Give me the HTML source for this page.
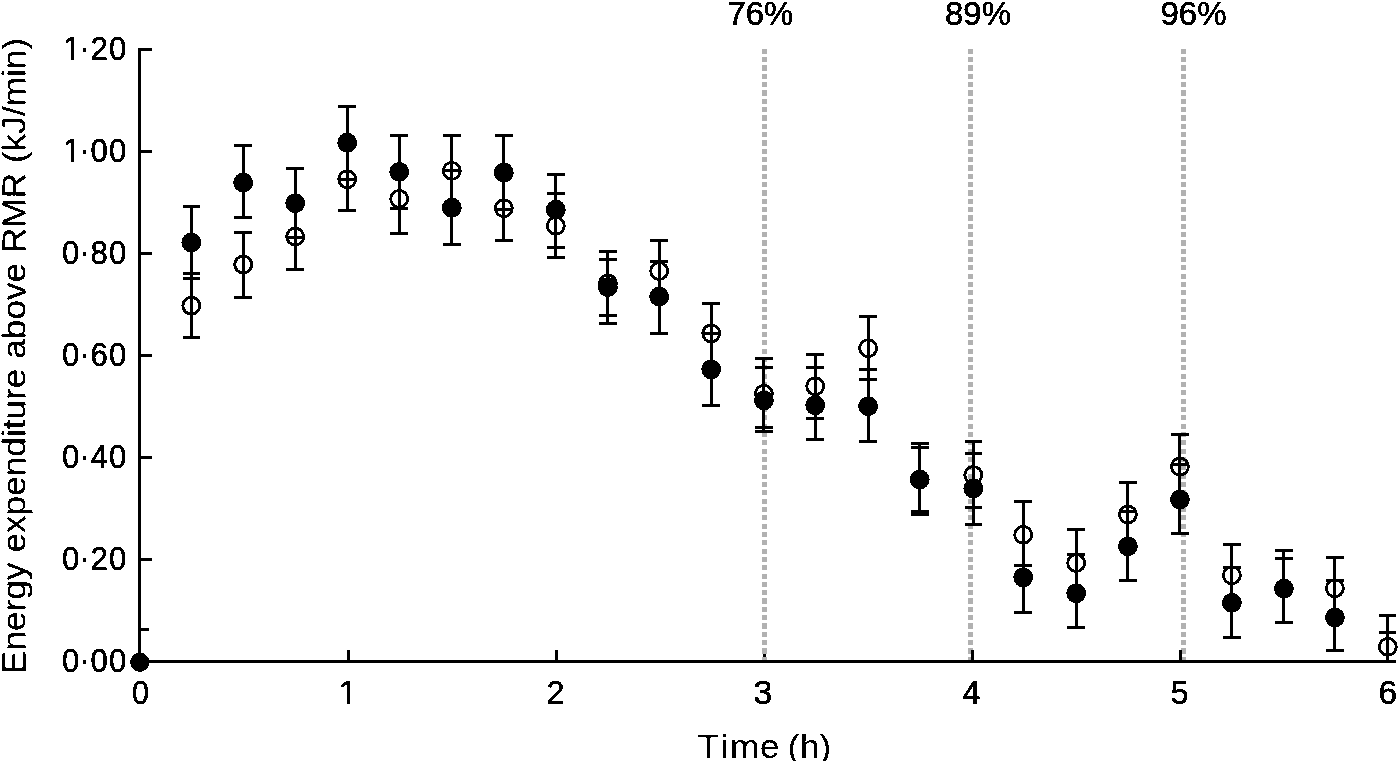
<!DOCTYPE html>
<html lang="en"><head><meta charset="utf-8"><title>Energy expenditure above RMR</title>
<style>html,body{margin:0;padding:0;background:#fff}body{width:1398px;height:761px;overflow:hidden}svg{display:block}text{font-family:"Liberation Sans",Arial,Helvetica,sans-serif;fill:#000;stroke:#000;stroke-width:0.5px}</style></head><body>
<svg width="1398" height="761" viewBox="0 0 1398 761">
<defs><filter id="bw" x="-5%" y="-5%" width="110%" height="110%" color-interpolation-filters="sRGB"><feComponentTransfer><feFuncA type="discrete" tableValues="0 1"/></feComponentTransfer></filter><clipPath id="one"><rect x="-2" y="-28" width="24" height="24.6"/><rect x="8.15" y="-28" width="3.5" height="30"/></clipPath><clipPath id="oney"><rect x="0" y="-30" width="200" height="26.6"/><rect x="76.00" y="-30" width="3.5" height="32"/><rect x="85.45" y="-30" width="120" height="40"/></clipPath></defs>
<rect width="1398" height="761" fill="#fff"/>
<g shape-rendering="crispEdges" fill="#000" stroke="none">
<rect x="138" y="48" width="3" height="615"/>
<rect x="138" y="660" width="1258" height="3"/>
<rect x="141" y="48" width="11" height="3"/>
<rect x="141" y="150" width="11" height="3"/>
<rect x="141" y="252" width="11" height="3"/>
<rect x="141" y="354" width="11" height="3"/>
<rect x="141" y="456" width="11" height="3"/>
<rect x="141" y="558" width="11" height="3"/>
<rect x="141" y="628" width="8" height="3"/>
<rect x="347" y="650" width="3" height="10"/>
<rect x="555" y="650" width="3" height="10"/>
<rect x="763" y="650" width="3" height="10"/>
<g fill="#b1b1b1">
<rect x="762" y="49" width="5" height="5"/>
<rect x="762" y="57" width="5" height="5"/>
<rect x="762" y="65" width="5" height="6"/>
<rect x="762" y="74" width="5" height="5"/>
<rect x="762" y="82" width="5" height="5"/>
<rect x="762" y="90" width="5" height="6"/>
<rect x="762" y="99" width="5" height="5"/>
<rect x="762" y="107" width="5" height="5"/>
<rect x="762" y="115" width="5" height="6"/>
<rect x="762" y="124" width="5" height="5"/>
<rect x="762" y="132" width="5" height="5"/>
<rect x="762" y="140" width="5" height="6"/>
<rect x="762" y="149" width="5" height="5"/>
<rect x="762" y="157" width="5" height="5"/>
<rect x="762" y="165" width="5" height="6"/>
<rect x="762" y="174" width="5" height="5"/>
<rect x="762" y="182" width="5" height="5"/>
<rect x="762" y="190" width="5" height="6"/>
<rect x="762" y="199" width="5" height="5"/>
<rect x="762" y="207" width="5" height="5"/>
<rect x="762" y="215" width="5" height="6"/>
<rect x="762" y="224" width="5" height="5"/>
<rect x="762" y="232" width="5" height="5"/>
<rect x="762" y="240" width="5" height="6"/>
<rect x="762" y="249" width="5" height="5"/>
<rect x="762" y="257" width="5" height="5"/>
<rect x="762" y="265" width="5" height="5"/>
<rect x="762" y="274" width="5" height="5"/>
<rect x="762" y="282" width="5" height="5"/>
<rect x="762" y="290" width="5" height="5"/>
<rect x="762" y="299" width="5" height="5"/>
<rect x="762" y="307" width="5" height="5"/>
<rect x="762" y="315" width="5" height="5"/>
<rect x="762" y="324" width="5" height="5"/>
<rect x="762" y="332" width="5" height="5"/>
<rect x="762" y="340" width="5" height="5"/>
<rect x="762" y="349" width="5" height="5"/>
<rect x="762" y="357" width="5" height="5"/>
<rect x="762" y="365" width="5" height="5"/>
<rect x="762" y="374" width="5" height="5"/>
<rect x="762" y="382" width="5" height="5"/>
<rect x="762" y="390" width="5" height="5"/>
<rect x="762" y="399" width="5" height="5"/>
<rect x="762" y="407" width="5" height="5"/>
<rect x="762" y="415" width="5" height="5"/>
<rect x="762" y="424" width="5" height="5"/>
<rect x="762" y="432" width="5" height="5"/>
<rect x="762" y="440" width="5" height="5"/>
<rect x="762" y="449" width="5" height="5"/>
<rect x="762" y="457" width="5" height="5"/>
<rect x="762" y="465" width="5" height="5"/>
<rect x="762" y="474" width="5" height="5"/>
<rect x="762" y="482" width="5" height="5"/>
<rect x="762" y="490" width="5" height="5"/>
<rect x="762" y="499" width="5" height="5"/>
<rect x="762" y="507" width="5" height="5"/>
<rect x="762" y="515" width="5" height="5"/>
<rect x="762" y="524" width="5" height="5"/>
<rect x="762" y="532" width="5" height="5"/>
<rect x="762" y="540" width="5" height="5"/>
<rect x="762" y="549" width="5" height="5"/>
<rect x="762" y="557" width="5" height="5"/>
<rect x="762" y="565" width="5" height="5"/>
<rect x="762" y="574" width="5" height="5"/>
<rect x="762" y="582" width="5" height="5"/>
<rect x="762" y="590" width="5" height="5"/>
<rect x="762" y="598" width="5" height="6"/>
<rect x="762" y="607" width="5" height="5"/>
<rect x="762" y="615" width="5" height="5"/>
<rect x="762" y="623" width="5" height="6"/>
<rect x="762" y="632" width="5" height="5"/>
<rect x="762" y="640" width="5" height="5"/>
<rect x="762" y="648" width="5" height="6"/>
<rect x="762" y="657" width="5" height="3"/>
</g>
<g fill="#b1b1b1">
<rect x="968" y="49" width="5" height="5"/>
<rect x="968" y="57" width="5" height="5"/>
<rect x="968" y="65" width="5" height="6"/>
<rect x="968" y="74" width="5" height="5"/>
<rect x="968" y="82" width="5" height="5"/>
<rect x="968" y="90" width="5" height="6"/>
<rect x="968" y="99" width="5" height="5"/>
<rect x="968" y="107" width="5" height="5"/>
<rect x="968" y="115" width="5" height="6"/>
<rect x="968" y="124" width="5" height="5"/>
<rect x="968" y="132" width="5" height="5"/>
<rect x="968" y="140" width="5" height="6"/>
<rect x="968" y="149" width="5" height="5"/>
<rect x="968" y="157" width="5" height="5"/>
<rect x="968" y="165" width="5" height="6"/>
<rect x="968" y="174" width="5" height="5"/>
<rect x="968" y="182" width="5" height="5"/>
<rect x="968" y="190" width="5" height="6"/>
<rect x="968" y="199" width="5" height="5"/>
<rect x="968" y="207" width="5" height="5"/>
<rect x="968" y="215" width="5" height="6"/>
<rect x="968" y="224" width="5" height="5"/>
<rect x="968" y="232" width="5" height="5"/>
<rect x="968" y="240" width="5" height="6"/>
<rect x="968" y="249" width="5" height="5"/>
<rect x="968" y="257" width="5" height="5"/>
<rect x="968" y="265" width="5" height="5"/>
<rect x="968" y="274" width="5" height="5"/>
<rect x="968" y="282" width="5" height="5"/>
<rect x="968" y="290" width="5" height="5"/>
<rect x="968" y="299" width="5" height="5"/>
<rect x="968" y="307" width="5" height="5"/>
<rect x="968" y="315" width="5" height="5"/>
<rect x="968" y="324" width="5" height="5"/>
<rect x="968" y="332" width="5" height="5"/>
<rect x="968" y="340" width="5" height="5"/>
<rect x="968" y="349" width="5" height="5"/>
<rect x="968" y="357" width="5" height="5"/>
<rect x="968" y="365" width="5" height="5"/>
<rect x="968" y="374" width="5" height="5"/>
<rect x="968" y="382" width="5" height="5"/>
<rect x="968" y="390" width="5" height="5"/>
<rect x="968" y="399" width="5" height="5"/>
<rect x="968" y="407" width="5" height="5"/>
<rect x="968" y="415" width="5" height="5"/>
<rect x="968" y="424" width="5" height="5"/>
<rect x="968" y="432" width="5" height="5"/>
<rect x="968" y="440" width="5" height="5"/>
<rect x="968" y="449" width="5" height="5"/>
<rect x="968" y="457" width="5" height="5"/>
<rect x="968" y="465" width="5" height="5"/>
<rect x="968" y="474" width="5" height="5"/>
<rect x="968" y="482" width="5" height="5"/>
<rect x="968" y="490" width="5" height="5"/>
<rect x="968" y="499" width="5" height="5"/>
<rect x="968" y="507" width="5" height="5"/>
<rect x="968" y="515" width="5" height="5"/>
<rect x="968" y="524" width="5" height="5"/>
<rect x="968" y="532" width="5" height="5"/>
<rect x="968" y="540" width="5" height="5"/>
<rect x="968" y="549" width="5" height="5"/>
<rect x="968" y="557" width="5" height="5"/>
<rect x="968" y="565" width="5" height="5"/>
<rect x="968" y="574" width="5" height="5"/>
<rect x="968" y="582" width="5" height="5"/>
<rect x="968" y="590" width="5" height="5"/>
<rect x="968" y="598" width="5" height="6"/>
<rect x="968" y="607" width="5" height="5"/>
<rect x="968" y="615" width="5" height="5"/>
<rect x="968" y="623" width="5" height="6"/>
<rect x="968" y="632" width="5" height="5"/>
<rect x="968" y="640" width="5" height="5"/>
<rect x="968" y="648" width="5" height="6"/>
<rect x="968" y="657" width="5" height="3"/>
</g>
<g fill="#b1b1b1">
<rect x="1181" y="49" width="5" height="5"/>
<rect x="1181" y="57" width="5" height="5"/>
<rect x="1181" y="65" width="5" height="6"/>
<rect x="1181" y="74" width="5" height="5"/>
<rect x="1181" y="82" width="5" height="5"/>
<rect x="1181" y="90" width="5" height="6"/>
<rect x="1181" y="99" width="5" height="5"/>
<rect x="1181" y="107" width="5" height="5"/>
<rect x="1181" y="115" width="5" height="6"/>
<rect x="1181" y="124" width="5" height="5"/>
<rect x="1181" y="132" width="5" height="5"/>
<rect x="1181" y="140" width="5" height="6"/>
<rect x="1181" y="149" width="5" height="5"/>
<rect x="1181" y="157" width="5" height="5"/>
<rect x="1181" y="165" width="5" height="6"/>
<rect x="1181" y="174" width="5" height="5"/>
<rect x="1181" y="182" width="5" height="5"/>
<rect x="1181" y="190" width="5" height="6"/>
<rect x="1181" y="199" width="5" height="5"/>
<rect x="1181" y="207" width="5" height="5"/>
<rect x="1181" y="215" width="5" height="6"/>
<rect x="1181" y="224" width="5" height="5"/>
<rect x="1181" y="232" width="5" height="5"/>
<rect x="1181" y="240" width="5" height="6"/>
<rect x="1181" y="249" width="5" height="5"/>
<rect x="1181" y="257" width="5" height="5"/>
<rect x="1181" y="265" width="5" height="5"/>
<rect x="1181" y="274" width="5" height="5"/>
<rect x="1181" y="282" width="5" height="5"/>
<rect x="1181" y="290" width="5" height="5"/>
<rect x="1181" y="299" width="5" height="5"/>
<rect x="1181" y="307" width="5" height="5"/>
<rect x="1181" y="315" width="5" height="5"/>
<rect x="1181" y="324" width="5" height="5"/>
<rect x="1181" y="332" width="5" height="5"/>
<rect x="1181" y="340" width="5" height="5"/>
<rect x="1181" y="349" width="5" height="5"/>
<rect x="1181" y="357" width="5" height="5"/>
<rect x="1181" y="365" width="5" height="5"/>
<rect x="1181" y="374" width="5" height="5"/>
<rect x="1181" y="382" width="5" height="5"/>
<rect x="1181" y="390" width="5" height="5"/>
<rect x="1181" y="399" width="5" height="5"/>
<rect x="1181" y="407" width="5" height="5"/>
<rect x="1181" y="415" width="5" height="5"/>
<rect x="1181" y="424" width="5" height="5"/>
<rect x="1181" y="432" width="5" height="5"/>
<rect x="1181" y="440" width="5" height="5"/>
<rect x="1181" y="449" width="5" height="5"/>
<rect x="1181" y="457" width="5" height="5"/>
<rect x="1181" y="465" width="5" height="5"/>
<rect x="1181" y="474" width="5" height="5"/>
<rect x="1181" y="482" width="5" height="5"/>
<rect x="1181" y="490" width="5" height="5"/>
<rect x="1181" y="499" width="5" height="5"/>
<rect x="1181" y="507" width="5" height="5"/>
<rect x="1181" y="515" width="5" height="5"/>
<rect x="1181" y="524" width="5" height="5"/>
<rect x="1181" y="532" width="5" height="5"/>
<rect x="1181" y="540" width="5" height="5"/>
<rect x="1181" y="549" width="5" height="5"/>
<rect x="1181" y="557" width="5" height="5"/>
<rect x="1181" y="565" width="5" height="5"/>
<rect x="1181" y="574" width="5" height="5"/>
<rect x="1181" y="582" width="5" height="5"/>
<rect x="1181" y="590" width="5" height="5"/>
<rect x="1181" y="598" width="5" height="6"/>
<rect x="1181" y="607" width="5" height="5"/>
<rect x="1181" y="615" width="5" height="5"/>
<rect x="1181" y="623" width="5" height="6"/>
<rect x="1181" y="632" width="5" height="5"/>
<rect x="1181" y="640" width="5" height="5"/>
<rect x="1181" y="648" width="5" height="6"/>
<rect x="1181" y="657" width="5" height="3"/>
</g>
<rect x="971" y="650" width="3" height="10"/>
<rect x="1179" y="650" width="3" height="10"/>
<rect x="190" y="205" width="3" height="134"/>
<rect x="183" y="205" width="17" height="3"/>
<rect x="183" y="272" width="17" height="3"/>
<rect x="183" y="277" width="17" height="3"/>
<rect x="183" y="336" width="17" height="3"/>
<rect x="242" y="144" width="3" height="75"/>
<rect x="234" y="144" width="18" height="3"/>
<rect x="234" y="216" width="18" height="3"/>
<rect x="242" y="231" width="3" height="68"/>
<rect x="234" y="231" width="18" height="3"/>
<rect x="234" y="296" width="18" height="3"/>
<rect x="294" y="167" width="3" height="104"/>
<rect x="286" y="167" width="18" height="3"/>
<rect x="286" y="236" width="18" height="3"/>
<rect x="286" y="268" width="18" height="3"/>
<rect x="346" y="105" width="3" height="107"/>
<rect x="338" y="105" width="18" height="3"/>
<rect x="338" y="178" width="18" height="3"/>
<rect x="338" y="209" width="18" height="3"/>
<rect x="398" y="134" width="3" height="101"/>
<rect x="390" y="134" width="18" height="3"/>
<rect x="390" y="207" width="18" height="3"/>
<rect x="390" y="232" width="18" height="3"/>
<rect x="450" y="134" width="3" height="112"/>
<rect x="443" y="134" width="18" height="3"/>
<rect x="443" y="169" width="18" height="3"/>
<rect x="443" y="243" width="18" height="3"/>
<rect x="502" y="134" width="3" height="108"/>
<rect x="495" y="134" width="18" height="3"/>
<rect x="495" y="208" width="18" height="3"/>
<rect x="495" y="239" width="18" height="3"/>
<rect x="554" y="173" width="3" height="86"/>
<rect x="547" y="173" width="18" height="3"/>
<rect x="547" y="192" width="18" height="3"/>
<rect x="547" y="246" width="18" height="3"/>
<rect x="547" y="256" width="18" height="3"/>
<rect x="606" y="250" width="3" height="75"/>
<rect x="599" y="250" width="18" height="3"/>
<rect x="599" y="258" width="18" height="3"/>
<rect x="599" y="314" width="18" height="3"/>
<rect x="599" y="322" width="18" height="3"/>
<rect x="658" y="239" width="3" height="96"/>
<rect x="650" y="239" width="18" height="3"/>
<rect x="650" y="260" width="18" height="3"/>
<rect x="650" y="332" width="18" height="3"/>
<rect x="710" y="302" width="3" height="105"/>
<rect x="702" y="302" width="18" height="3"/>
<rect x="702" y="332" width="18" height="3"/>
<rect x="702" y="404" width="18" height="3"/>
<rect x="762" y="357" width="3" height="76"/>
<rect x="755" y="357" width="18" height="3"/>
<rect x="755" y="366" width="18" height="3"/>
<rect x="755" y="426" width="18" height="3"/>
<rect x="755" y="430" width="18" height="3"/>
<rect x="814" y="353" width="3" height="88"/>
<rect x="806" y="353" width="18" height="3"/>
<rect x="806" y="366" width="18" height="3"/>
<rect x="806" y="417" width="18" height="3"/>
<rect x="806" y="438" width="18" height="3"/>
<rect x="867" y="315" width="3" height="128"/>
<rect x="859" y="315" width="18" height="3"/>
<rect x="859" y="368" width="18" height="3"/>
<rect x="859" y="378" width="18" height="3"/>
<rect x="859" y="440" width="18" height="3"/>
<rect x="918" y="442" width="3" height="74"/>
<rect x="911" y="442" width="18" height="3"/>
<rect x="911" y="446" width="18" height="3"/>
<rect x="911" y="510" width="18" height="3"/>
<rect x="911" y="513" width="18" height="3"/>
<rect x="972" y="440" width="3" height="86"/>
<rect x="965" y="440" width="17" height="3"/>
<rect x="965" y="452" width="17" height="3"/>
<rect x="965" y="506" width="17" height="3"/>
<rect x="965" y="523" width="17" height="3"/>
<rect x="1022" y="500" width="3" height="114"/>
<rect x="1014" y="500" width="18" height="3"/>
<rect x="1014" y="564" width="18" height="3"/>
<rect x="1014" y="611" width="18" height="3"/>
<rect x="1075" y="528" width="3" height="101"/>
<rect x="1067" y="528" width="18" height="3"/>
<rect x="1067" y="553" width="18" height="3"/>
<rect x="1067" y="626" width="18" height="3"/>
<rect x="1126" y="481" width="3" height="101"/>
<rect x="1119" y="481" width="18" height="3"/>
<rect x="1119" y="510" width="18" height="3"/>
<rect x="1119" y="579" width="18" height="3"/>
<rect x="1178" y="433" width="3" height="102"/>
<rect x="1171" y="433" width="18" height="3"/>
<rect x="1171" y="463" width="18" height="3"/>
<rect x="1171" y="532" width="18" height="3"/>
<rect x="1230" y="543" width="3" height="96"/>
<rect x="1223" y="543" width="18" height="3"/>
<rect x="1223" y="566" width="18" height="3"/>
<rect x="1223" y="636" width="18" height="3"/>
<rect x="1282" y="549" width="3" height="75"/>
<rect x="1275" y="549" width="18" height="3"/>
<rect x="1275" y="557" width="18" height="3"/>
<rect x="1275" y="621" width="18" height="3"/>
<rect x="1333" y="556" width="3" height="96"/>
<rect x="1326" y="556" width="18" height="3"/>
<rect x="1326" y="579" width="18" height="3"/>
<rect x="1326" y="649" width="18" height="3"/>
<rect x="1386" y="614" width="3" height="49"/>
<rect x="1379" y="614" width="17" height="3"/>
<rect x="1379" y="631" width="17" height="3"/>
</g>
<g shape-rendering="crispEdges" stroke="#000" fill="none">
<circle cx="191.3" cy="305.7" r="8.45" stroke-width="2.9"/>
<circle cx="191.3" cy="242.5" r="9.9" fill="#000" stroke="none"/>
<circle cx="243.2" cy="182.6" r="9.9" fill="#000" stroke="none"/>
<circle cx="243.2" cy="264.5" r="8.45" stroke-width="2.9"/>
<circle cx="295.2" cy="236.6" r="8.45" stroke-width="2.9"/>
<circle cx="295.2" cy="203.2" r="9.9" fill="#000" stroke="none"/>
<circle cx="347.2" cy="179.3" r="8.45" stroke-width="2.9"/>
<circle cx="347.2" cy="142.7" r="9.9" fill="#000" stroke="none"/>
<circle cx="399.2" cy="198.9" r="8.45" stroke-width="2.9"/>
<circle cx="399.2" cy="171.9" r="9.9" fill="#000" stroke="none"/>
<circle cx="451.8" cy="170.9" r="8.45" stroke-width="2.9"/>
<circle cx="451.8" cy="207.7" r="9.9" fill="#000" stroke="none"/>
<circle cx="503.8" cy="208.2" r="8.45" stroke-width="2.9"/>
<circle cx="503.8" cy="172.6" r="9.9" fill="#000" stroke="none"/>
<circle cx="555.8" cy="225.8" r="8.45" stroke-width="2.9"/>
<circle cx="555.8" cy="209.7" r="9.9" fill="#000" stroke="none"/>
<circle cx="607.9" cy="283.4" r="8.45" stroke-width="2.9"/>
<circle cx="607.9" cy="287.1" r="9.9" fill="#000" stroke="none"/>
<circle cx="659.2" cy="271" r="8.45" stroke-width="2.9"/>
<circle cx="659.2" cy="296.6" r="9.9" fill="#000" stroke="none"/>
<circle cx="711.2" cy="333.4" r="8.45" stroke-width="2.9"/>
<circle cx="711.2" cy="369.4" r="9.9" fill="#000" stroke="none"/>
<circle cx="763.9" cy="393.8" r="8.45" stroke-width="2.9"/>
<circle cx="763.9" cy="400.4" r="9.9" fill="#000" stroke="none"/>
<circle cx="815.2" cy="386.3" r="8.45" stroke-width="2.9"/>
<circle cx="815.2" cy="405.3" r="9.9" fill="#000" stroke="none"/>
<circle cx="868.1" cy="348.2" r="8.45" stroke-width="2.9"/>
<circle cx="868.1" cy="406.2" r="9.9" fill="#000" stroke="none"/>
<circle cx="919.8" cy="479.5" r="9.9" fill="#000" stroke="none"/>
<circle cx="973.3" cy="475" r="8.45" stroke-width="2.9"/>
<circle cx="973.3" cy="488.4" r="9.9" fill="#000" stroke="none"/>
<circle cx="1023.2" cy="534.8" r="8.45" stroke-width="2.9"/>
<circle cx="1023.2" cy="577.4" r="9.9" fill="#000" stroke="none"/>
<circle cx="1076.2" cy="563" r="8.45" stroke-width="2.9"/>
<circle cx="1076.2" cy="593.3" r="9.9" fill="#000" stroke="none"/>
<circle cx="1127.9" cy="514.5" r="8.45" stroke-width="2.9"/>
<circle cx="1127.9" cy="546.3" r="9.9" fill="#000" stroke="none"/>
<circle cx="1179.9" cy="466.6" r="8.45" stroke-width="2.9"/>
<circle cx="1179.9" cy="499.5" r="9.9" fill="#000" stroke="none"/>
<circle cx="1231.9" cy="575.3" r="8.45" stroke-width="2.9"/>
<circle cx="1231.9" cy="602.8" r="9.9" fill="#000" stroke="none"/>
<circle cx="1283.9" cy="588.7" r="9.9" fill="#000" stroke="none"/>
<circle cx="1334.9" cy="588.3" r="8.45" stroke-width="2.9"/>
<circle cx="1334.9" cy="617.5" r="9.9" fill="#000" stroke="none"/>
<circle cx="1387.8" cy="646.8" r="8.45" stroke-width="2.9"/>
<circle cx="139.7" cy="662.3" r="9.6" fill="#000" stroke="none"/>
</g>
<g filter="url(#bw)">
<text transform="translate(0 60.4) scale(0.930 1)" x="67.85 85.48 97.20 117.10" dy="0 -1.1 1.1 0" font-size="33.5" clip-path="url(#oney)">1·20</text>
<text transform="translate(0 162.4) scale(0.930 1)" x="67.85 85.48 97.20 117.10" dy="0 -1.1 1.1 0" font-size="33.5" clip-path="url(#oney)">1·00</text>
<text transform="translate(0 264.4) scale(0.930 1)" x="66.67 85.48 97.20 117.10" dy="0 -1.1 1.1 0" font-size="33.5">0·80</text>
<text transform="translate(0 366.4) scale(0.930 1)" x="66.67 85.48 97.20 117.10" dy="0 -1.1 1.1 0" font-size="33.5">0·60</text>
<text transform="translate(0 468.4) scale(0.930 1)" x="66.67 85.48 97.20 117.10" dy="0 -1.1 1.1 0" font-size="33.5">0·40</text>
<text transform="translate(0 570.4) scale(0.930 1)" x="66.67 85.48 97.20 117.10" dy="0 -1.1 1.1 0" font-size="33.5">0·20</text>
<text transform="translate(0 672.4) scale(0.930 1)" x="66.67 85.48 97.20 117.10" dy="0 -1.1 1.1 0" font-size="33.5">0·00</text>
<text transform="translate(140.4 703.6) scale(0.910 1)" text-anchor="middle" font-size="33.5">0</text>
<text transform="translate(338.5 703.6) scale(1.012 1)" font-size="33.5" clip-path="url(#one)">1</text>
<text transform="translate(555.5 703.6) scale(0.960 1)" text-anchor="middle" font-size="33.5">2</text>
<text transform="translate(763.0 703.6) scale(1.012 1)" text-anchor="middle" font-size="33.5">3</text>
<text transform="translate(971.5 703.6) scale(0.960 1)" text-anchor="middle" font-size="33.5">4</text>
<text transform="translate(1179.5 703.6) scale(0.950 1)" text-anchor="middle" font-size="33.5">5</text>
<text transform="translate(1387.7 703.6) scale(1.000 1)" text-anchor="middle" font-size="33.5">6</text>
<text transform="translate(760.4 25.0) scale(0.984 1)" text-anchor="middle" font-size="33.5">76%</text>
<text transform="translate(978.0 25.0) scale(0.984 1)" text-anchor="middle" font-size="33.5">89%</text>
<text transform="translate(1193.5 25.0) scale(0.984 1)" text-anchor="middle" font-size="33.5">96%</text>
<text transform="translate(764.5 757.8) scale(1.045 1)" text-anchor="middle" dx="0 2.5 1.6 0.7 -1 -0.2 0.5 0" font-size="33.5" style="stroke-width:0.1px">Time (h)</text>
<text transform="translate(25.5 674.0) rotate(-90) scale(1.036 1)" text-anchor="start" font-size="34.0" style="stroke-width:0.2px">Energy expenditure above RMR (kJ/min)</text>
</g>
</svg></body></html>
